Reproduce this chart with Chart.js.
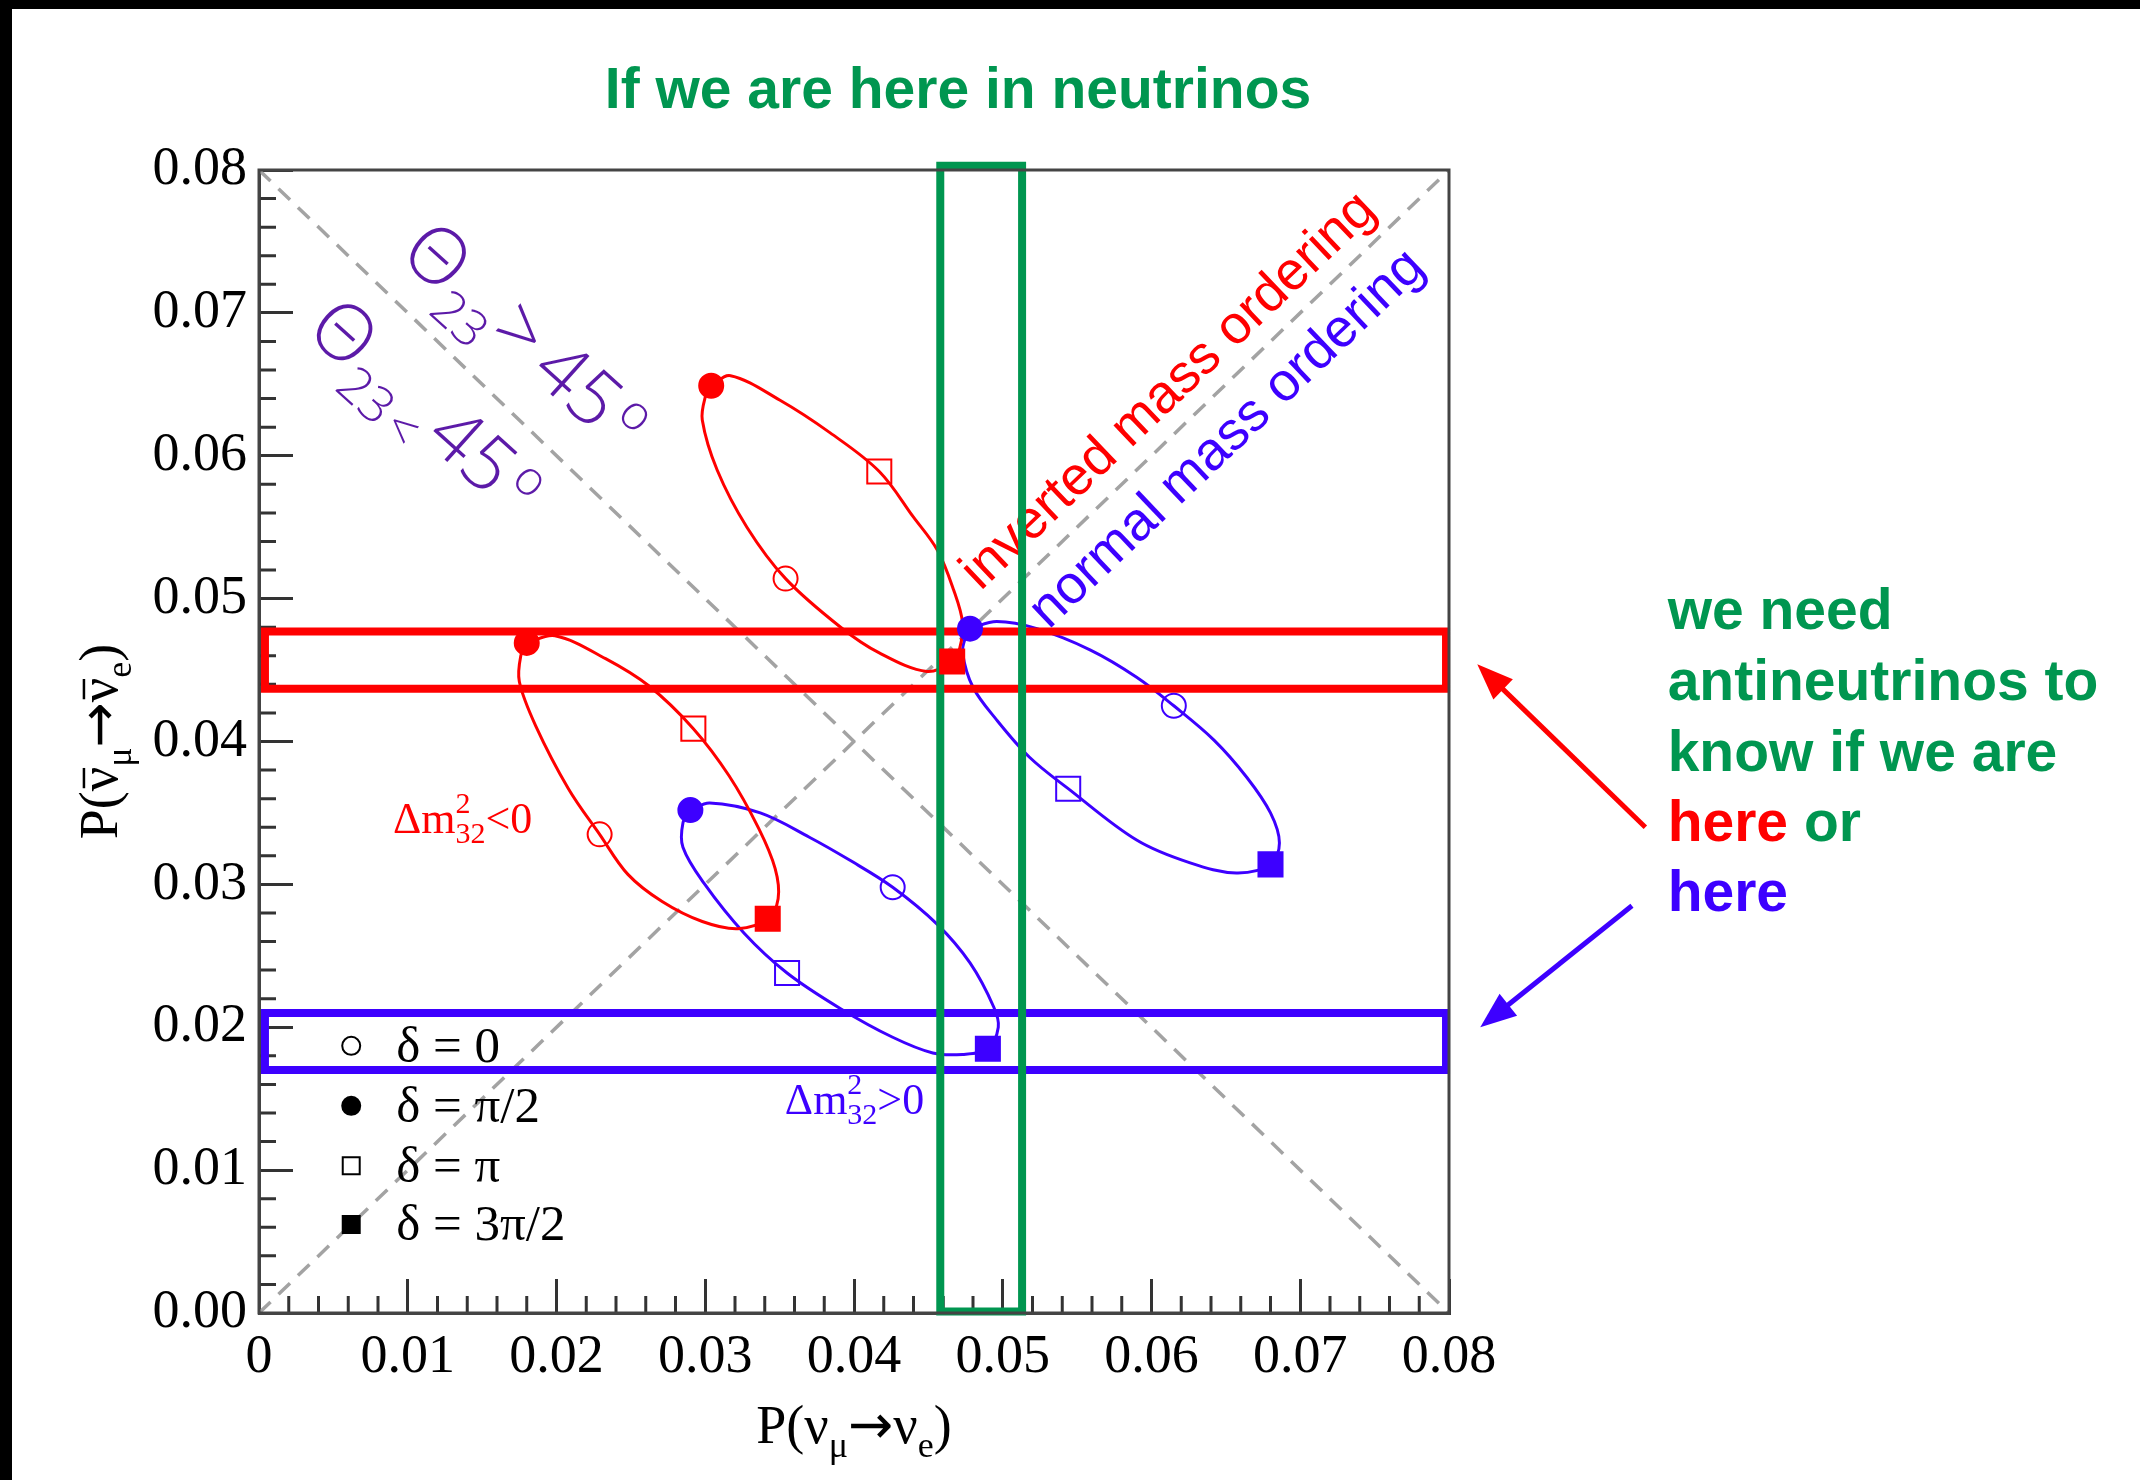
<!DOCTYPE html>
<html>
<head>
<meta charset="utf-8">
<script src="https://cdn.jsdelivr.net/npm/chart.js@4.4.0/dist/chart.umd.min.js"></script>
<style>
  html, body { margin: 0; padding: 0; background: #fff; }
  #wrap { position: relative; width: 2140px; height: 1480px; overflow: hidden; background: #fff; }
  #wrap canvas { position: absolute; left: 0; top: 0; }
  #topbar { position: absolute; left: 0; top: 0; width: 2140px; height: 9px; background: #000; }
  #leftbar { position: absolute; left: 0; top: 0; width: 12px; height: 1480px; background: #000; }
</style>
</head>
<body>
<div id="wrap">
  <canvas id="chart" width="2140" height="1480"></canvas>
  <div id="topbar"></div>
  <div id="leftbar"></div>
</div>
<script>
// --- values: P(numu->nue) on x, P(anti) on y ---

// red contour, upper (starts and ends at delta = pi/2)
const redUpperX = [0.0304, 0.0317, 0.0350, 0.0384, 0.0417, 0.0440, 0.0456, 0.0467, 0.0473, 0.0471, 0.0466, 0.0449, 0.0417, 0.0391, 0.0354, 0.0328, 0.0308, 0.0298, 0.0300, 0.0304];
const redUpperY = [0.0649, 0.0656, 0.0639, 0.0616, 0.0589, 0.0557, 0.0534, 0.0506, 0.0483, 0.0465, 0.0456, 0.0449, 0.0462, 0.0480, 0.0514, 0.0550, 0.0590, 0.0625, 0.0641, 0.0649];

// red contour, lower
const redLowerX = [0.0180, 0.0199, 0.0233, 0.0262, 0.0292, 0.0316, 0.0336, 0.0347, 0.0349, 0.0342, 0.0322, 0.0298, 0.0271, 0.0248, 0.0229, 0.0208, 0.0186, 0.0175, 0.0176, 0.0180];
const redLowerY = [0.0469, 0.0474, 0.0458, 0.0439, 0.0409, 0.0376, 0.0339, 0.0311, 0.0290, 0.0276, 0.0269, 0.0274, 0.0288, 0.0307, 0.0335, 0.0367, 0.0411, 0.0442, 0.0460, 0.0469];

// blue contour, upper
const blueUpperX = [0.0478, 0.0496, 0.0523, 0.0559, 0.0590, 0.0615, 0.0642, 0.0664, 0.0680, 0.0686, 0.0680, 0.0657, 0.0626, 0.0590, 0.0544, 0.0518, 0.0496, 0.0480, 0.0473, 0.0475, 0.0478];
const blueUpperY = [0.0479, 0.0484, 0.0479, 0.0464, 0.0445, 0.0425, 0.0401, 0.0375, 0.0350, 0.0329, 0.0314, 0.0308, 0.0315, 0.0331, 0.0367, 0.0389, 0.0415, 0.0438, 0.0462, 0.0473, 0.0479];

// blue contour, lower
const blueLowerX = [0.0290, 0.0303, 0.0337, 0.0370, 0.0397, 0.0426, 0.0456, 0.0478, 0.0494, 0.0497, 0.0490, 0.0473, 0.0453, 0.0426, 0.0391, 0.0355, 0.0326, 0.0299, 0.0285, 0.0285, 0.0290];
const blueLowerY = [0.0352, 0.0357, 0.0350, 0.0333, 0.0317, 0.0298, 0.0272, 0.0245, 0.0214, 0.0200, 0.0185, 0.0181, 0.0182, 0.0193, 0.0213, 0.0238, 0.0266, 0.0301, 0.0326, 0.0343, 0.0352];

// delta markers, order: 0, pi/2, pi, 3pi/2
const deltaLabels = ['δ = 0', 'δ = π/2', 'δ = π', 'δ = 3π/2'];
const redUpperDeltaX = [0.0354, 0.0304, 0.0417, 0.0466];
const redUpperDeltaY = [0.0514, 0.0649, 0.0589, 0.0456];
const redLowerDeltaX = [0.0229, 0.0180, 0.0292, 0.0342];
const redLowerDeltaY = [0.0335, 0.0469, 0.0409, 0.0276];
const blueUpperDeltaX = [0.0615, 0.0478, 0.0544, 0.0680];
const blueUpperDeltaY = [0.0425, 0.0479, 0.0367, 0.0314];
const blueLowerDeltaX = [0.0426, 0.0290, 0.0355, 0.0490];
const blueLowerDeltaY = [0.0298, 0.0352, 0.0238, 0.0185];

// highlight boxes [x0, x1], [y0, y1]
const greenBoxX = [0.0458, 0.0513];
const greenBoxY = [0.0001, 0.0803];
const redBoxX = [0.0004, 0.0798];
const redBoxY = [0.0437, 0.0477];
const blueBoxX = [0.0004, 0.0798];
const blueBoxY = [0.0170, 0.0210];

// theta23 = 45 deg lines
const diagX = [0, 0.08];
const diagUpY = [0, 0.08];
const diagDownY = [0.08, 0];

// legend rows (y) and marker x
const legendX = 0.0062;
const legendY = [0.0187, 0.0145, 0.0103, 0.0062];

// annotation arrows: tail -> tip
const redArrowX = [0.0932, 0.0819];
const redArrowY = [0.0340, 0.0454];
const blueArrowX = [0.0923, 0.0821];
const blueArrowY = [0.0285, 0.0200];

const noteLines = ['we need', 'antineutrinos to', 'know if we are'];
const noteY = [0.04787, 0.04290, 0.03793, 0.03303, 0.02813];
const noteX = 0.0947;

const RED = '#ff0000';
const BLUE = '#3d00ff';
const GREEN = '#009650';
const PURPLE = '#5c1aa8';
const SERIF = "'Liberation Serif', 'Times New Roman', serif";
const SANS = "'Liberation Sans', Arial, sans-serif";
const THIN = "'Open Sans', 'Liberation Sans', sans-serif";

// --- helpers ---
const pts = (xs, ys) => xs.map((x, i) => ({ x: x, y: ys[i] }));
const boxPts = (bx, by) => [
    { x: bx[0], y: by[0] }, { x: bx[1], y: by[0] },
    { x: bx[1], y: by[1] }, { x: bx[0], y: by[1] }, { x: bx[0], y: by[0] }
];

function curve(xs, ys, color) {
    return { data: pts(xs, ys), showLine: true, borderColor: color, borderWidth: 3,
             pointRadius: 0, tension: 0.35, fill: false, order: 3 };
}

function markers(xs, ys, color) {
    return { data: pts(xs, ys), showLine: false,
             pointStyle: ['circle', 'circle', 'rect', 'rect'],
             pointRadius: [12, 12, 17, 17],
             pointBorderColor: color,
             pointBackgroundColor: ['rgba(0,0,0,0)', color, 'rgba(0,0,0,0)', color],
             pointBorderWidth: 2, order: 0 };
}

function box(bx, by, color, order) {
    return { data: boxPts(bx, by), showLine: true, borderColor: color, borderWidth: 8,
             pointRadius: 0, tension: 0, borderJoinStyle: 'miter', borderCapStyle: 'square',
             clip: false, order: order };
}

function diag(ys) {
    return { data: pts(diagX, ys), showLine: true, borderColor: '#a3a3a3', borderWidth: 3.5,
             borderDash: [16, 11], pointRadius: 0, order: 5 };
}

// draws a run of text pieces (sub/superscripts, overbars); returns width
function drawRich(ctx, parts, x, y, draw) {
    let cx = x;
    for (const p of parts) {
        cx += p.gap || 0;
        ctx.font = p.font;
        const w = ctx.measureText(p.t).width;
        if (draw) {
            ctx.fillStyle = p.color;
            ctx.fillText(p.t, cx, y + (p.dy || 0));
            if (p.bar) {
                ctx.strokeStyle = p.color;
                ctx.lineWidth = 2.5;
                ctx.beginPath();
                ctx.moveTo(cx + w * 0.12, y - p.bar);
                ctx.lineTo(cx + w * 0.95, y - p.bar);
                ctx.stroke();
            }
        }
        if (!p.stack) cx += w;
    }
    return cx - x;
}

function drawRotated(ctx, parts, x, y, angle) {
    ctx.save();
    ctx.translate(x, y);
    ctx.rotate(angle);
    ctx.textAlign = 'left';
    ctx.textBaseline = 'alphabetic';
    drawRich(ctx, parts, 0, 0, true);
    ctx.restore();
}

function drawArrow(ctx, x0, y0, x1, y1, color) {
    const ang = Math.atan2(y1 - y0, x1 - x0);
    const head = 36, half = 14;
    ctx.save();
    ctx.strokeStyle = color;
    ctx.fillStyle = color;
    ctx.lineWidth = 5;
    ctx.beginPath();
    ctx.moveTo(x0, y0);
    ctx.lineTo(x1 - Math.cos(ang) * head * 0.8, y1 - Math.sin(ang) * head * 0.8);
    ctx.stroke();
    ctx.beginPath();
    ctx.moveTo(x1, y1);
    ctx.lineTo(x1 - Math.cos(ang) * head - Math.sin(ang) * half, y1 - Math.sin(ang) * head + Math.cos(ang) * half);
    ctx.lineTo(x1 - Math.cos(ang) * head + Math.sin(ang) * half, y1 - Math.sin(ang) * head - Math.cos(ang) * half);
    ctx.closePath();
    ctx.fill();
    ctx.restore();
}

const sansF = (s) => s + 'px ' + SANS;
const thinF = (s) => '300 ' + s + 'px ' + THIN;
const serifF = (s) => s + 'px ' + SERIF;

// text that sits under the datasets (rotated labels, minor ticks)
const underlay = {
    id: 'underlay',
    beforeDatasetsDraw(chart) {
        const ctx = chart.ctx;
        const sx = chart.scales.x, sy = chart.scales.y;
        const area = chart.chartArea;

        // minor ticks every 0.002
        ctx.save();
        ctx.strokeStyle = '#333';
        ctx.lineWidth = 3;
        ctx.beginPath();
        for (let k = 0; k <= 40; k++) {
            if (k % 5 === 0) continue;
            const v = k * 0.002;
            const px = sx.getPixelForValue(v);
            ctx.moveTo(px, area.bottom);
            ctx.lineTo(px, area.bottom - 17);
            const py = sy.getPixelForValue(v);
            ctx.moveTo(area.left, py);
            ctx.lineTo(area.left + 17, py);
        }
        ctx.stroke();
        ctx.restore();

        const a45 = 42 * Math.PI / 180;
        drawRotated(ctx, [
            { t: 'Θ', font: thinF(78), color: PURPLE },
            { t: '23', font: thinF(50), color: PURPLE, dy: 22 },
            { t: '>', font: thinF(80), color: PURPLE, gap: 2 },
            { t: '4', font: thinF(76), color: PURPLE, gap: 12 },
            { t: '5', font: thinF(76), color: PURPLE, gap: 0 },
            { t: 'o', font: thinF(48), color: PURPLE, dy: -27, gap: 6 }
        ], sx.getPixelForValue(0.00930), sy.getPixelForValue(0.07395), a45);
        drawRotated(ctx, [
            { t: 'Θ', font: thinF(78), color: PURPLE },
            { t: '23', font: thinF(50), color: PURPLE, dy: 22 },
            { t: '<', font: thinF(50), color: PURPLE, dy: 22, gap: 6 },
            { t: '4', font: thinF(76), color: PURPLE, gap: 9 },
            { t: '5', font: thinF(76), color: PURPLE, gap: 0 },
            { t: 'o', font: thinF(48), color: PURPLE, dy: -27, gap: 6 }
        ], sx.getPixelForValue(0.00300), sy.getPixelForValue(0.06860), a45);

        const aUp = -43.6 * Math.PI / 180;
        drawRotated(ctx, [{ t: 'inverted mass ordering', font: sansF(54), color: RED }],
            sx.getPixelForValue(0.0485), sy.getPixelForValue(0.0505), aUp);
        drawRotated(ctx, [{ t: 'normal mass ordering', font: sansF(54), color: BLUE }],
            sx.getPixelForValue(0.0531), sy.getPixelForValue(0.0478), aUp);
    }
};

// frame, legend, titles and notes on top
const overlay = {
    id: 'overlay',
    afterDraw(chart) {
        const ctx = chart.ctx;
        const sx = chart.scales.x, sy = chart.scales.y;
        const area = chart.chartArea;
        const X = (v) => sx.getPixelForValue(v);
        const Y = (v) => sy.getPixelForValue(v);

        ctx.save();
        ctx.strokeStyle = '#444';
        ctx.lineWidth = 3;
        ctx.strokeRect(area.left, area.top, area.right - area.left, area.bottom - area.top);

        // legend
        const styles = ['circle', 'circle', 'rect', 'rect'];
        const fills = ['#fff', '#000', '#fff', '#000'];
        const radii = [9, 9, 12, 12];
        ctx.textAlign = 'left';
        ctx.textBaseline = 'alphabetic';
        deltaLabels.forEach((lab, i) => {
            const py = Y(legendY[i]);
            ctx.fillStyle = fills[i];
            ctx.strokeStyle = '#000';
            ctx.lineWidth = 2;
            Chart.helpers.drawPoint(ctx, { pointStyle: styles[i], radius: radii[i], borderWidth: 2 }, X(legendX), py);
            ctx.fillStyle = '#000';
            ctx.font = serifF(51);
            ctx.fillText(lab, X(legendX) + 45, py + 16);
        });

        // delta m^2 labels
        const dm = (sign, color) => [
            { t: 'Δm', font: serifF(44), color: color },
            { t: '2', font: serifF(30), color: color, dy: -20, stack: true },
            { t: '32', font: serifF(30), color: color, dy: 10 },
            { t: sign + '0', font: serifF(44), color: color }
        ];
        drawRich(ctx, dm('<', RED), X(0.0090), Y(0.0336), true);
        drawRich(ctx, dm('>', BLUE), X(0.03535), Y(0.01395), true);

        // axis titles
        const ARROW = "54px 'DejaVu Sans', sans-serif";
        const xTitle = [
            { t: 'P(', font: serifF(54), color: '#000' },
            { t: 'ν', font: serifF(54), color: '#000' },
            { t: 'μ', font: serifF(36), color: '#000', dy: 14 },
            { t: '→', font: ARROW, color: '#000' },
            { t: 'ν', font: serifF(54), color: '#000' },
            { t: 'e', font: serifF(36), color: '#000', dy: 14 },
            { t: ')', font: serifF(54), color: '#000' }
        ];
        const wx = drawRich(ctx, xTitle, 0, 0, false);
        drawRich(ctx, xTitle, (area.left + area.right) / 2 - wx / 2, Y(-0.0091), true);

        const yTitle = [
            { t: 'P(', font: serifF(54), color: '#000' },
            { t: 'ν', font: serifF(54), color: '#000', bar: 33 },
            { t: 'μ', font: serifF(36), color: '#000', dy: 14 },
            { t: '→', font: ARROW, color: '#000' },
            { t: 'ν', font: serifF(54), color: '#000', bar: 33 },
            { t: 'e', font: serifF(36), color: '#000', dy: 14 },
            { t: ')', font: serifF(54), color: '#000' }
        ];
        const wy = drawRich(ctx, yTitle, 0, 0, false);
        ctx.save();
        ctx.translate(X(-0.00955), (area.top + area.bottom) / 2);
        ctx.rotate(-Math.PI / 2);
        drawRich(ctx, yTitle, -wy / 2, 0, true);
        ctx.restore();

        // title
        ctx.font = 'bold ' + sansF(57);
        ctx.fillStyle = GREEN;
        ctx.textAlign = 'center';
        ctx.fillText('If we are here in neutrinos', X(0.04699), Y(0.08433));

        // notes on the right
        ctx.textAlign = 'left';
        noteLines.forEach((s, i) => ctx.fillText(s, X(noteX), Y(noteY[i])));
        const bold = 'bold ' + sansF(57);
        drawRich(ctx, [{ t: 'here', font: bold, color: RED }, { t: ' or', font: bold, color: GREEN }], X(noteX), Y(noteY[3]), true);
        drawRich(ctx, [{ t: 'here', font: bold, color: BLUE }], X(noteX), Y(noteY[4]), true);

        drawArrow(ctx, X(redArrowX[0]), Y(redArrowY[0]), X(redArrowX[1]), Y(redArrowY[1]), RED);
        drawArrow(ctx, X(blueArrowX[0]), Y(blueArrowY[0]), X(blueArrowX[1]), Y(blueArrowY[1]), BLUE);
        ctx.restore();
    }
};

const axisCommon = {
    type: 'linear', min: 0, max: 0.08,
    grid: { drawOnChartArea: false, drawTicks: true, tickLength: -34, tickWidth: 3, tickColor: '#333' },
    border: { display: true, color: '#444', width: 3 },
    title: { display: false }
};

new Chart(document.getElementById('chart'), {
    type: 'scatter',
    data: {
        datasets: [
            markers(redUpperDeltaX, redUpperDeltaY, RED),
            markers(redLowerDeltaX, redLowerDeltaY, RED),
            markers(blueUpperDeltaX, blueUpperDeltaY, BLUE),
            markers(blueLowerDeltaX, blueLowerDeltaY, BLUE),
            box(greenBoxX, greenBoxY, GREEN, 1),
            box(redBoxX, redBoxY, RED, 2),
            box(blueBoxX, blueBoxY, BLUE, 2),
            curve(redUpperX, redUpperY, RED),
            curve(redLowerX, redLowerY, RED),
            curve(blueUpperX, blueUpperY, BLUE),
            curve(blueLowerX, blueLowerY, BLUE),
            diag(diagUpY),
            diag(diagDownY)
        ]
    },
    options: {
        responsive: false,
        animation: false,
        layout: { padding: { left: 0, top: 170, right: 691, bottom: 0 } },
        plugins: { legend: { display: false }, tooltip: { enabled: false } },
        scales: {
            x: Object.assign({}, axisCommon, {
                position: 'bottom',
                ticks: { stepSize: 0.01, autoSkip: false, maxRotation: 0, padding: 46, color: '#000',
                         font: { family: SERIF, size: 54 },
                         callback: (v) => (v === 0 ? '0' : v.toFixed(2)) },
                afterFit: (s) => { s.height = 167; }
            }),
            y: Object.assign({}, axisCommon, {
                position: 'left',
                ticks: { stepSize: 0.01, autoSkip: false, padding: 46, color: '#000',
                         font: { family: SERIF, size: 54 },
                         callback: (v) => v.toFixed(2) },
                afterFit: (s) => { s.width = 259; }
            })
        }
    },
    plugins: [underlay, overlay]
});
</script>
</body>
</html>
